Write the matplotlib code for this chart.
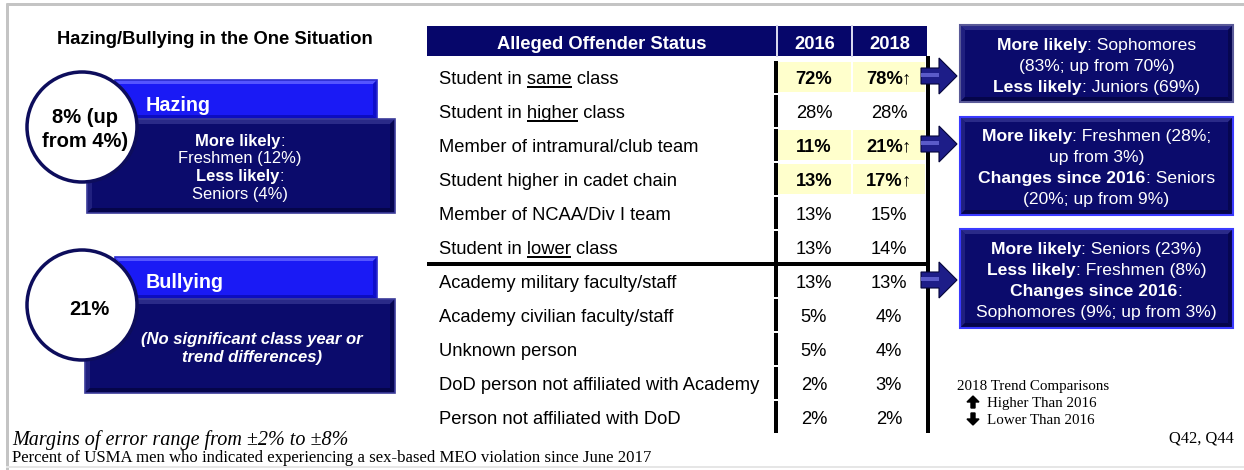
import matplotlib
matplotlib.use("Agg")
import matplotlib.pyplot as plt
from matplotlib.patches import Rectangle, Circle, Polygon, FancyArrow

# ---------------- data ----------------
title = "Hazing/Bullying in the One Situation"
hazing_label = "Hazing"
hazing_value = "8% (up\nfrom 4%)"
hazing_lines = [[("More likely", "bold"), (":", "normal")],
                [("Freshmen (12%)", "normal")],
                [("Less likely", "bold"), (":", "normal")],
                [("Seniors (4%)", "normal")]]
bullying_label = "Bullying"
bullying_value = "21%"
bullying_note = ["(No significant class year or", "trend differences)"]

header = ["Alleged Offender Status", "2016", "2018"]
offender = ["Student in same class", "Student in higher class",
            "Member of intramural/club team", "Student higher in cadet chain",
            "Member of NCAA/Div I team", "Student in lower class",
            "Academy military faculty/staff", "Academy civilian faculty/staff",
            "Unknown person", "DoD person not affiliated with Academy",
            "Person not affiliated with DoD"]
underlined = ["same", "higher", None, None, None, "lower", None, None, None, None, None]
pct_2016 = [72, 28, 11, 13, 13, 13, 13, 5, 5, 2, 2]
pct_2018 = [78, 28, 21, 17, 15, 14, 13, 4, 4, 3, 2]
higher_2018 = [True, False, True, True, False, False, False, False, False, False, False]
highlight = [True, False, True, True, False, False, False, False, False, False, False]
group_split = 6  # rows above the thick horizontal line

callout_rows = [0, 2, 6]
callouts = [
    [[("More likely", "bold"), (": Sophomores", "normal")],
     [("(83%; up from 70%)", "normal")],
     [("Less likely", "bold"), (": Juniors (69%)", "normal")]],
    [[("More likely", "bold"), (": Freshmen (28%;", "normal")],
     [("up from 3%)", "normal")],
     [("Changes since 2016", "bold"), (": Seniors", "normal")],
     [("(20%; up from 9%)", "normal")]],
    [[("More likely", "bold"), (": Seniors (23%)", "normal")],
     [("Less likely", "bold"), (": Freshmen (8%)", "normal")],
     [("Changes since 2016", "bold"), (":", "normal")],
     [("Sophomores (9%; up from 3%)", "normal")]],
]
legend_title = "2018 Trend Comparisons"
legend_items = ["Higher Than 2016", "Lower Than 2016"]
margin_note = "Margins of error range from \u00b12% to \u00b18%"
base_note = "Percent of USMA men who indicated experiencing a sex-based MEO violation since June 2017"
source_note = "Q42, Q44"

# ---------------- styling ----------------
SANS = ["Liberation Sans", "DejaVu Sans"]
SERIF = ["Liberation Serif", "DejaVu Serif"]
NAVY = "#0b0b6c"
HEADER = "#06066a"
BLUE = "#1a1af5"
YELLOW = "#ffffcc"
W, H = 1244, 470

fig = plt.figure(figsize=(W / 100, H / 100), dpi=100)
ax = fig.add_axes([0, 0, 1, 1])
ax.set_xlim(0, W)
ax.set_ylim(H, 0)
ax.axis("off")
renderer = fig.canvas.get_renderer()


def px2pt(p):
    return p * 0.72


def txt(x, yc, s, size, fam=SANS, ha="left", weight="normal", style="normal",
        color="black", z=10):
    cap = 0.716 if fam is SANS else 0.662
    base = yc + cap * size * 100 / 72 / 2
    return ax.text(x, base, s, fontsize=size, family=fam, ha=ha, va="baseline",
                   fontweight=weight, fontstyle=style, color=color, zorder=z)


def width(t):
    return t.get_window_extent(renderer).width


def mixed(xc, yc, parts, size, color="white", z=10):
    ts = [txt(0, yc, s, size, weight=w, color=color, z=z) for s, w in parts]
    ws = [width(t) for t in ts]
    x = xc - sum(ws) / 2
    for t, w in zip(ts, ws):
        t.set_x(x)
        x += w


def bevel_box(x0, y0, x1, y1, face, light, dark, edge, b=4, z=2, lw=1.2):
    ax.add_patch(Rectangle((x0, y0), x1 - x0, y1 - y0, facecolor=face,
                           edgecolor="none", zorder=z))
    ax.add_patch(Polygon([(x0, y0), (x1, y0), (x1 - b, y0 + b), (x0 + b, y0 + b)],
                         closed=True, facecolor=light, edgecolor="none", zorder=z))
    ax.add_patch(Polygon([(x0, y0), (x0 + b, y0 + b), (x0 + b, y1 - b), (x0, y1)],
                         closed=True, facecolor=light, edgecolor="none", zorder=z, alpha=0.7))
    ax.add_patch(Polygon([(x0, y1), (x0 + b, y1 - b), (x1 - b, y1 - b), (x1, y1)],
                         closed=True, facecolor=dark, edgecolor="none", zorder=z))
    ax.add_patch(Polygon([(x1, y0), (x1, y1), (x1 - b, y1 - b), (x1 - b, y0 + b)],
                         closed=True, facecolor=dark, edgecolor="none", zorder=z, alpha=0.8))
    ax.add_patch(Rectangle((x0, y0), x1 - x0, y1 - y0, facecolor="none",
                           edgecolor=edge, lw=lw, zorder=z))


# ---------------- frame ----------------
ax.plot([7, 7], [3, H], color="#c4c4c4", lw=px2pt(3), zorder=1, solid_capstyle="butt")
ax.plot([6, W], [4, 4], color="#c4c4c4", lw=px2pt(3), zorder=1, solid_capstyle="butt")
ax.plot([7, W], [467, 467], color="#e6e6e6", lw=px2pt(2), zorder=1)

# ---------------- left panel ----------------
txt(215, 37.5, title, 13.2, ha="center", weight="bold")

groups = [
    dict(cy=127, bar=(115, 80, 377, 119), box=(87, 119, 395, 213),
         label=hazing_label, label_y=103.5, value=hazing_value),
    dict(cy=305, bar=(115, 257, 377, 299), box=(85, 299, 395, 393),
         label=bullying_label, label_y=280.5, value=bullying_value),
]
for g in groups:
    x0, y0, x1, y1 = g["bar"]
    bevel_box(x0, y0, x1, y1, BLUE, "#5555ff", "#0d0dc0", "#2a2ad0", b=4, z=2)
    x0, y0, x1, y1 = g["box"]
    bevel_box(x0, y0, x1, y1, NAVY, "#2a2a88", "#05054a", "#3b3b9a", b=5, z=3)
    txt(146, g["label_y"], g["label"], 14.2, weight="bold", color="white", z=5)
    ax.add_patch(Circle((82, g["cy"]), 55, facecolor="white", edgecolor="#0d0d5c",
                        lw=px2pt(3.5), zorder=6))

# circle values
txt(85, 116, hazing_value.split("\n")[0], 14.5, ha="center", weight="bold", z=7)
txt(85, 139.5, hazing_value.split("\n")[1], 14.5, ha="center", weight="bold", z=7)
txt(89, 307.5, bullying_value, 14.5, ha="center", weight="bold", z=7)

for i, parts in enumerate(hazing_lines):
    mixed(240, 139.6 + 17.8 * i, parts, 11.9, z=7)
for i, line in enumerate(bullying_note):
    txt(252, 338.5 + 17.5 * i, line, 12, ha="center", weight="bold",
        style="italic", color="white", z=7)

# ---------------- table ----------------
TX0, TX1 = 427, 927
C1, C2 = 777, 852
ax.add_patch(Rectangle((TX0, 26), TX1 - TX0, 30, facecolor=HEADER, edgecolor="none", zorder=2))
for xs in (C1, C2):
    ax.plot([xs, xs], [26, 56], color="#d8d8ee", lw=px2pt(2), zorder=3)
txt((TX0 + C1) / 2, 42, header[0], 13.2, ha="center", weight="bold", color="white")
txt((C1 + C2) / 2, 42, header[1], 13.2, ha="center", weight="bold", color="white")
txt((C2 + TX1) / 2, 42, header[2], 13.2, ha="center", weight="bold", color="white")

ROW0, DY = 77, 34
n = len(offender)
for i in range(n):
    yc = ROW0 + DY * i
    if highlight[i]:
        ax.add_patch(Rectangle((C1 + 1, yc - 15), C2 - C1 - 2, 30, facecolor=YELLOW,
                               edgecolor="none", zorder=1))
        ax.add_patch(Rectangle((C2 + 1, yc - 15), TX1 - C2 - 3, 30, facecolor=YELLOW,
                               edgecolor="none", zorder=1))
    # black separators
    ax.plot([C1 - 1.5, C1 - 1.5], [yc - 16, yc + 16], color="black", lw=px2pt(4),
            zorder=4, solid_capstyle="butt")
    # label
    t = txt(439, yc, offender[i], 13.2)
    w = underlined[i]
    if w:
        k = offender[i].index(w)
        probe_full = txt(0, yc, offender[i][:k + len(w)], 13.2)
        probe_word = txt(0, yc, w, 13.2)
        end = width(probe_full)
        start = end - width(probe_word)
        probe_full.remove()
        probe_word.remove()
        base = yc + 0.716 * 13.2 * 100 / 72 / 2
        ax.plot([439 + start, 439 + end], [base + 3, base + 3], color="black",
                lw=px2pt(2), zorder=4, solid_capstyle="butt")
    wt = "bold" if highlight[i] else "normal"
    txt(814, yc, f"{pct_2016[i]}%", 13.2, ha="center", weight=wt)
    s18 = f"{pct_2018[i]}%"
    if higher_2018[i]:
        a = txt(0, yc, s18, 13.2, weight=wt)
        b = txt(0, yc, "\u2191", 13.2)
        wa, wb = width(a), width(b)
        x = 889 - (wa + wb) / 2
        a.set_x(x)
        b.set_x(x + wa - 1)
    else:
        txt(889, yc, s18, 13.2, ha="center", weight=wt)

ybot = ROW0 + DY * (n - 1) + 16
ax.plot([TX1 + 0.5, TX1 + 0.5], [56, ybot], color="black", lw=px2pt(4), zorder=4,
        solid_capstyle="butt")
ysplit = ROW0 + DY * group_split - 17
ax.plot([TX0, TX1 + 2.5], [ysplit, ysplit], color="black", lw=px2pt(4), zorder=4,
        solid_capstyle="butt")

# ---------------- callouts ----------------
boxes = [(960, 25, 1233, 102), (960, 117, 1233, 215), (960, 229, 1233, 328)]
line_y0 = [43.5, 135, 248]
edges = ["#5a5a98", "#3a3aff", "#3a3aff"]
for r, box, lines, y0, ec in zip(callout_rows, boxes, callouts, line_y0, edges):
    yc = ROW0 + DY * r - 1
    # arrow
    arrow = Polygon([(921, yc - 8), (939, yc - 8), (939, yc - 18), (957, yc),
                     (939, yc + 18), (939, yc + 8), (921, yc + 8)], closed=True,
                    facecolor="#1d1d88", edgecolor="#05053a", lw=0.8, zorder=5)
    ax.add_patch(arrow)
    ax.add_patch(Rectangle((921, yc - 3), 18, 4, facecolor="#5a5ac8", edgecolor="none", zorder=6))
    x0, y0b, x1, y1 = box
    bevel_box(x0, y0b, x1, y1, NAVY, "#2a2a88", "#05054a", ec, b=5, z=3, lw=1.5)
    for j, parts in enumerate(lines):
        mixed((x0 + x1) / 2, y0 + 21 * j, parts, 12.6, z=7)

# ---------------- legend & notes ----------------
txt(957, 385, legend_title, 10.8, fam=SERIF)
for j, lab in enumerate(legend_items):
    yc = 402 + 17 * j
    if j == 0:
        ax.add_patch(FancyArrow(973, yc + 6, 0, -12, width=4, head_width=12,
                                head_length=6, length_includes_head=True,
                                color="black", zorder=5))
    else:
        ax.add_patch(FancyArrow(973, yc - 6, 0, 12, width=4, head_width=12,
                                head_length=6, length_includes_head=True,
                                color="black", zorder=5))
    txt(987, yc, lab, 10.8, fam=SERIF)

txt(1234, 437, source_note, 11.9, fam=SERIF, ha="right")
txt(12, 438, margin_note, 14.5, fam=SERIF, style="italic")
txt(12, 456, base_note, 12.1, fam=SERIF)

fig.savefig("out.png", dpi=100)
